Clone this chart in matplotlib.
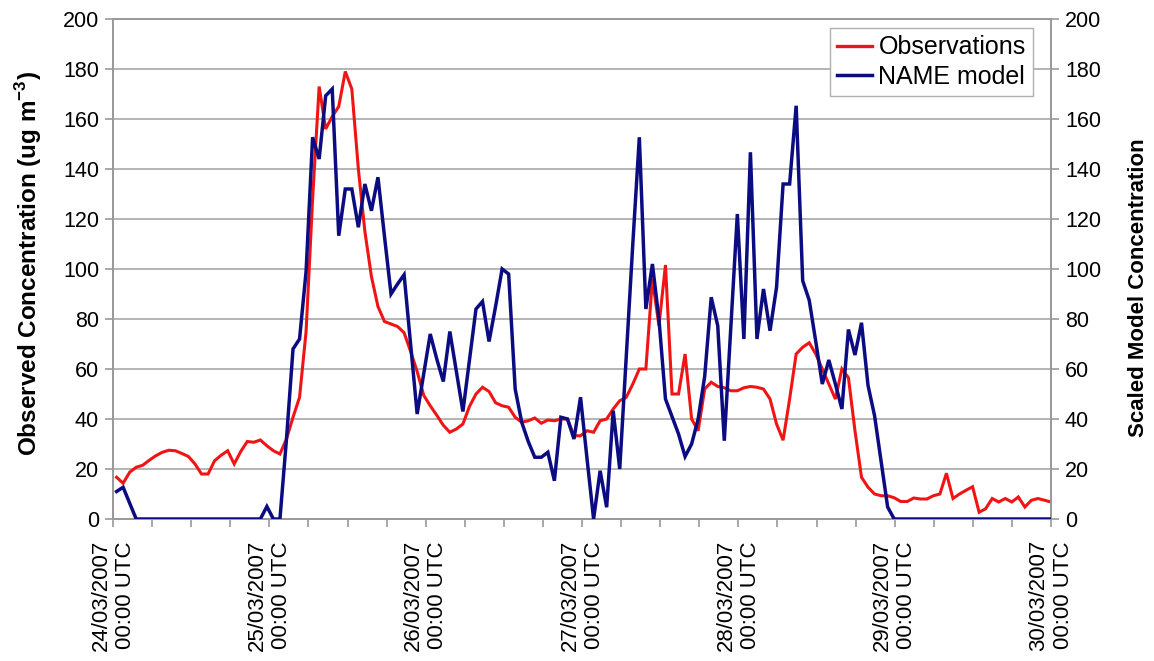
import numpy as np
import matplotlib
matplotlib.use("Agg")
import matplotlib.pyplot as plt
from matplotlib.lines import Line2D

plt.rcParams['font.family'] = ['Liberation Sans', 'DejaVu Sans']
plt.rcParams['mathtext.fontset'] = 'custom'
plt.rcParams['mathtext.rm'] = 'Liberation Sans'
plt.rcParams['mathtext.bf'] = 'Liberation Sans:bold'

# ---------------- data ----------------
day_labels = ["24/03/2007\n00:00 UTC", "25/03/2007\n00:00 UTC", "26/03/2007\n00:00 UTC",
              "27/03/2007\n00:00 UTC", "28/03/2007\n00:00 UTC", "29/03/2007\n00:00 UTC",
              "30/03/2007\n00:00 UTC"]

observations = [
    16.7, 14.3, 18.7, 20.7, 21.5, 23.5, 25.3, 26.7, 27.5, 27.3,
    26.2, 25.0, 22.0, 18.0, 18.0, 23.3, 25.5, 27.3, 22.0, 27.0,
    31.0, 30.7, 31.6, 29.3, 27.3, 26.0, 32.0, 40.7, 48.7, 75.0,
    128.0, 173.0, 156.0, 161.0, 165.0, 179.0, 172.0, 140.0, 115.0, 97.0,
    85.0, 79.0, 78.0, 77.0, 74.5, 67.0, 59.0, 49.5, 45.3, 41.5,
    37.5, 34.7, 36.0, 38.0, 45.0, 50.0, 52.7, 51.0, 46.5, 45.3,
    44.7, 40.7, 38.7, 39.3, 40.4, 38.3, 39.6, 39.3, 40.0, 40.0,
    33.3, 33.3, 35.3, 34.7, 39.3, 40.0, 44.0, 47.3, 48.7, 54.0,
    60.0, 60.0, 96.0, 77.3, 101.6, 50.0, 50.0, 66.0, 40.0, 35.3,
    52.0, 54.7, 53.0, 52.5, 51.3, 51.3, 52.5, 53.0, 52.7, 52.0,
    48.0, 38.0, 31.5, 48.0, 66.0, 68.7, 70.5, 66.0, 60.0, 54.0,
    48.0, 60.0, 56.5, 35.3, 16.7, 12.7, 10.0, 9.3, 9.3, 8.5,
    7.0, 7.0, 8.4, 8.0, 8.0, 9.3, 10.0, 18.3, 8.2, 10.0,
    11.5, 12.9, 2.7, 4.1, 8.2, 6.8, 8.2, 6.8, 8.8, 4.8,
    7.5, 8.2, 7.5, 6.8,
]

name_model = [
    11.0, 12.7, 6.3, 0, 0, 0, 0, 0, 0, 0,
    0, 0, 0, 0, 0, 0, 0, 0, 0, 0,
    0, 0, 0, 5.0, 0, 0, 32.0, 68.0, 72.0, 99.0,
    152.7, 144.0, 169.3, 172.0, 113.3, 132.0, 132.0, 116.7, 134.0, 123.3,
    136.7, 113.0, 90.0, 94.0, 97.7, 70.0, 42.0, 58.0, 74.0, 64.0,
    55.0, 75.0, 59.0, 43.0, 63.5, 84.0, 87.0, 71.0, 85.0, 100.0,
    98.0, 52.0, 38.7, 31.0, 24.7, 24.7, 26.7, 15.3, 40.7, 40.0,
    32.0, 48.7, 24.0, 0, 19.3, 4.7, 43.3, 20.0, 65.0, 110.0,
    152.7, 84.0, 102.0, 80.0, 48.0, 41.0, 34.0, 25.0, 30.0, 40.0,
    57.0, 88.7, 77.3, 31.3, 76.7, 122.0, 72.0, 146.7, 72.0, 92.0,
    75.3, 92.7, 134.0, 134.0, 165.3, 95.3, 87.5, 71.0, 54.0, 63.6,
    54.0, 44.0, 75.8, 65.6, 78.5, 53.4, 41.3, 23.0, 4.8, 0,
    0, 0, 0, 0, 0, 0, 0, 0, 0, 0,
    0, 0, 0, 0, 0, 0, 0, 0, 0, 0,
    0, 0, 0, 0,
]

series_names = ["Observations", "NAME model"]
y_ticks = list(range(0, 201, 20))

# hourly samples across the six days
hours = np.linspace(0.55, 144.0, len(observations))

# ---------------- figure ----------------
W, H = 1154, 661
fig = plt.figure(figsize=(W / 100, H / 100), dpi=100)
L, R, T, B = 113, 1051, 19, 519
ax = fig.add_axes([L / W, 1 - B / H, (R - L) / W, (B - T) / H])

grey = '#9a9a9a'
red = '#f01414'
navy = '#0c0c82'

ax.set_xlim(0, 144)
ax.set_ylim(0, 200)
ax.set_yticks(y_ticks)
ax.yaxis.grid(True, color='#a8a8a8', lw=1.2)
ax.set_axisbelow(True)

ax.plot(hours, observations, color=red, lw=2.2, solid_joinstyle='miter', zorder=3)

ax.set_xticks(np.arange(0, 145, 24))
ax.set_xticklabels(day_labels, rotation=90, fontsize=16, va='top', ha='center')
ax.set_xticks(np.arange(0, 145, 6), minor=True)
ax.tick_params(axis='x', which='both', direction='out', length=6, width=1.2,
               color=grey, pad=9)
ax.tick_params(axis='y', direction='out', length=6, width=1.2, color=grey,
               labelsize=15.5, pad=4)

for s in ax.spines.values():
    s.set_color(grey)
    s.set_linewidth(1.4)

ax.set_ylabel("Observed Concentration (ug m$^{\\mathbf{-3}}$)", fontsize=17.5,
              fontweight='bold')
ax.yaxis.set_label_coords(-0.074, 0.51)

ax2 = ax.twinx()
ax2.set_ylim(0, 200)
ax2.set_yticks(y_ticks)
ax2.plot(hours, name_model, color=navy, lw=2.5, solid_joinstyle='miter', zorder=3)
ax2.tick_params(axis='y', direction='out', length=6, width=1.2, color=grey,
                labelsize=15.5, pad=4)
for s in ax2.spines.values():
    s.set_color(grey)
    s.set_linewidth(1.4)
ax2.set_ylabel("Scaled Model Concentration", fontsize=16, fontweight='bold')
ax2.yaxis.set_label_coords(1.082, 0.462)

handles = [Line2D([], [], color=red, lw=2.4), Line2D([], [], color=navy, lw=2.5)]
leg = ax2.legend(handles, series_names, loc='upper right',
                 bbox_to_anchor=(0.981, 0.982), borderaxespad=0,
                 fontsize=18, frameon=True, fancybox=False, framealpha=1,
                 edgecolor='#b0b0b0', handlelength=1.4, handletextpad=0.25,
                 borderpad=0.3, labelspacing=0.2)
leg.get_frame().set_linewidth(1.0)

fig.savefig("out.png", dpi=100)
